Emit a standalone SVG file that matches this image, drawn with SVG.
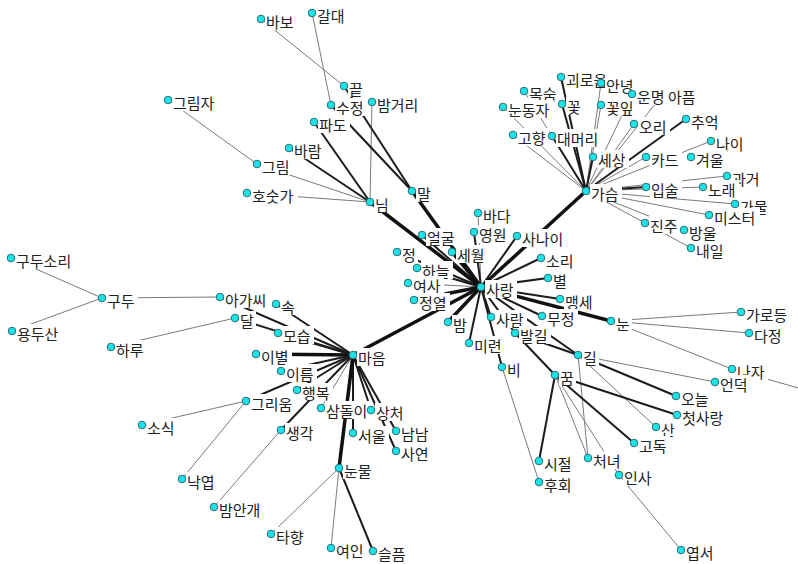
<svg xmlns="http://www.w3.org/2000/svg" width="798" height="564" viewBox="0 0 798 564">
<style>
.t{stroke:#7a7a7a;stroke-width:1}
.m{stroke:#1c1c1c;stroke-width:2}
.k{stroke:#111;stroke-width:3.5}
.bg{fill:#fff}
.dot{fill:#1de3e6;stroke:#2a6f78;stroke-width:1}
text{font-family:"Noto Sans CJK KR","Noto Sans KR",sans-serif;font-size:15px;fill:#222}
</style>
<rect width="798" height="564" fill="#fff"/>
<g id="edges" fill="none">
<line class="t" x1="261" y1="19" x2="344" y2="86"/>
<line class="t" x1="312" y1="13" x2="331" y2="105"/>
<line class="t" x1="168" y1="100" x2="257" y2="164"/>
<line class="t" x1="257" y1="164" x2="370" y2="202"/>
<line class="t" x1="247" y1="193" x2="370" y2="202"/>
<line class="t" x1="372" y1="102" x2="370" y2="202"/>
<line class="t" x1="503" y1="107" x2="586" y2="191"/>
<line class="t" x1="513" y1="135" x2="586" y2="191"/>
<line class="t" x1="524" y1="91" x2="586" y2="191"/>
<line class="t" x1="601" y1="83" x2="586" y2="191"/>
<line class="t" x1="601" y1="105" x2="586" y2="191"/>
<line class="t" x1="632" y1="94" x2="586" y2="191"/>
<line class="t" x1="663" y1="94" x2="586" y2="191"/>
<line class="t" x1="634" y1="124" x2="586" y2="191"/>
<line class="t" x1="646" y1="157" x2="586" y2="191"/>
<line class="t" x1="711" y1="141" x2="586" y2="191"/>
<line class="t" x1="727" y1="176" x2="586" y2="191"/>
<line class="t" x1="703" y1="187" x2="586" y2="191"/>
<line class="t" x1="735" y1="204" x2="586" y2="191"/>
<line class="t" x1="709" y1="215" x2="586" y2="191"/>
<line class="t" x1="645" y1="223" x2="586" y2="191"/>
<line class="t" x1="684" y1="230" x2="586" y2="191"/>
<line class="t" x1="691" y1="248" x2="645" y2="223"/>
<line class="t" x1="478" y1="213" x2="481" y2="287"/>
<line class="t" x1="408" y1="283" x2="481" y2="287"/>
<line class="t" x1="611" y1="321" x2="741" y2="312"/>
<line class="t" x1="611" y1="321" x2="749" y2="333"/>
<line class="t" x1="611" y1="321" x2="732" y2="369"/>
<line class="t" x1="732" y1="369" x2="812" y2="392"/>
<line class="t" x1="578" y1="355" x2="715" y2="382"/>
<line class="t" x1="578" y1="355" x2="656" y2="427"/>
<line class="t" x1="578" y1="355" x2="588" y2="458"/>
<line class="t" x1="555" y1="375" x2="619" y2="475"/>
<line class="t" x1="555" y1="375" x2="588" y2="458"/>
<line class="t" x1="619" y1="475" x2="681" y2="550"/>
<line class="t" x1="502" y1="367" x2="539" y2="482"/>
<line class="t" x1="11" y1="258" x2="102" y2="298"/>
<line class="t" x1="12" y1="331" x2="102" y2="298"/>
<line class="t" x1="102" y1="298" x2="220" y2="297"/>
<line class="t" x1="111" y1="347" x2="235" y2="318"/>
<line class="t" x1="246" y1="401" x2="142" y2="425"/>
<line class="t" x1="246" y1="401" x2="182" y2="479"/>
<line class="t" x1="281" y1="430" x2="214" y2="507"/>
<line class="t" x1="339" y1="468" x2="271" y2="534"/>
<line class="t" x1="339" y1="468" x2="331" y2="548"/>
<line class="t" x1="321" y1="408" x2="353" y2="355"/>
<line class="m" x1="289" y1="148" x2="370" y2="202"/>
<line class="m" x1="314" y1="122" x2="370" y2="202"/>
<line class="m" x1="331" y1="105" x2="412" y2="191"/>
<line class="m" x1="344" y1="86" x2="412" y2="191"/>
<line class="m" x1="561" y1="77" x2="586" y2="191"/>
<line class="m" x1="562" y1="104" x2="586" y2="191"/>
<line class="m" x1="552" y1="136" x2="586" y2="191"/>
<line class="m" x1="593" y1="157" x2="586" y2="191"/>
<line class="m" x1="686" y1="119" x2="586" y2="191"/>
<line class="m" x1="646" y1="187" x2="586" y2="191"/>
<line class="m" x1="474" y1="232" x2="481" y2="287"/>
<line class="m" x1="422" y1="235" x2="481" y2="287"/>
<line class="m" x1="397" y1="252" x2="481" y2="287"/>
<line class="m" x1="417" y1="268" x2="481" y2="287"/>
<line class="m" x1="517" y1="236" x2="481" y2="287"/>
<line class="m" x1="541" y1="258" x2="481" y2="287"/>
<line class="m" x1="548" y1="278" x2="481" y2="287"/>
<line class="m" x1="560" y1="299" x2="481" y2="287"/>
<line class="m" x1="542" y1="316" x2="481" y2="287"/>
<line class="m" x1="491" y1="317" x2="481" y2="287"/>
<line class="m" x1="515" y1="333" x2="481" y2="287"/>
<line class="m" x1="469" y1="343" x2="481" y2="287"/>
<line class="m" x1="481" y1="287" x2="502" y2="367"/>
<line class="m" x1="481" y1="287" x2="578" y2="355"/>
<line class="m" x1="515" y1="333" x2="578" y2="355"/>
<line class="m" x1="515" y1="333" x2="555" y2="375"/>
<line class="m" x1="578" y1="355" x2="676" y2="396"/>
<line class="m" x1="555" y1="375" x2="677" y2="415"/>
<line class="m" x1="555" y1="375" x2="634" y2="443"/>
<line class="m" x1="555" y1="375" x2="539" y2="461"/>
<line class="m" x1="339" y1="468" x2="373" y2="551"/>
<line class="m" x1="276" y1="304" x2="353" y2="355"/>
<line class="m" x1="220" y1="297" x2="353" y2="355"/>
<line class="m" x1="235" y1="318" x2="353" y2="355"/>
<line class="m" x1="278" y1="333" x2="353" y2="355"/>
<line class="m" x1="281" y1="371" x2="353" y2="355"/>
<line class="m" x1="246" y1="401" x2="353" y2="355"/>
<line class="m" x1="297" y1="390" x2="353" y2="355"/>
<line class="m" x1="281" y1="430" x2="353" y2="355"/>
<line class="m" x1="353" y1="433" x2="353" y2="355"/>
<line class="m" x1="371" y1="410" x2="353" y2="355"/>
<line class="m" x1="396" y1="431" x2="353" y2="355"/>
<line class="m" x1="396" y1="451" x2="353" y2="355"/>
<line class="k" x1="370" y1="202" x2="481" y2="287"/>
<line class="k" x1="412" y1="191" x2="481" y2="287"/>
<line class="k" x1="586" y1="191" x2="481" y2="287"/>
<line class="k" x1="452" y1="252" x2="481" y2="287"/>
<line class="k" x1="414" y1="300" x2="481" y2="287"/>
<line class="k" x1="448" y1="322" x2="481" y2="287"/>
<line class="k" x1="353" y1="355" x2="481" y2="287"/>
<line class="k" x1="611" y1="321" x2="481" y2="287"/>
<line class="k" x1="256" y1="354" x2="353" y2="355"/>
<line class="k" x1="339" y1="468" x2="353" y2="355"/>
</g>
<g id="n01"><rect class="bg" x="265" y="12" width="32" height="18"/><circle class="dot" cx="261" cy="19" r="3.8"/><text x="266" y="28">바보</text></g>
<g id="n02"><rect class="bg" x="316" y="6" width="32" height="18"/><circle class="dot" cx="312" cy="13" r="3.8"/><text x="317" y="22">갈대</text></g>
<g id="n03"><rect class="bg" x="348" y="79" width="17" height="18"/><circle class="dot" cx="344" cy="86" r="3.8"/><text x="349" y="95">끝</text></g>
<g id="n04"><rect class="bg" x="335" y="98" width="32" height="18"/><circle class="dot" cx="331" cy="105" r="3.8"/><text x="336" y="114">수정</text></g>
<g id="n05"><rect class="bg" x="376" y="95" width="47" height="18"/><circle class="dot" cx="372" cy="102" r="3.8"/><text x="377" y="111">밤거리</text></g>
<g id="n06"><rect class="bg" x="318" y="115" width="32" height="18"/><circle class="dot" cx="314" cy="122" r="3.8"/><text x="319" y="131">파도</text></g>
<g id="n07"><rect class="bg" x="172" y="93" width="47" height="18"/><circle class="dot" cx="168" cy="100" r="3.8"/><text x="173" y="109">그림자</text></g>
<g id="n08"><rect class="bg" x="293" y="141" width="32" height="18"/><circle class="dot" cx="289" cy="148" r="3.8"/><text x="294" y="157">바람</text></g>
<g id="n09"><rect class="bg" x="261" y="157" width="32" height="18"/><circle class="dot" cx="257" cy="164" r="3.8"/><text x="262" y="173">그림</text></g>
<g id="n10"><rect class="bg" x="251" y="186" width="47" height="18"/><circle class="dot" cx="247" cy="193" r="3.8"/><text x="252" y="202">호숫가</text></g>
<g id="n11"><rect class="bg" x="374" y="195" width="17" height="18"/><circle class="dot" cx="370" cy="202" r="3.8"/><text x="375" y="211">님</text></g>
<g id="n12"><rect class="bg" x="416" y="184" width="17" height="18"/><circle class="dot" cx="412" cy="191" r="3.8"/><text x="417" y="200">말</text></g>
<g id="n13"><rect class="bg" x="565" y="70" width="47" height="18"/><circle class="dot" cx="561" cy="77" r="3.8"/><text x="566" y="86">괴로움</text></g>
<g id="n14"><rect class="bg" x="605" y="76" width="32" height="18"/><circle class="dot" cx="601" cy="83" r="3.8"/><text x="606" y="92">안녕</text></g>
<g id="n15"><rect class="bg" x="528" y="84" width="32" height="18"/><circle class="dot" cx="524" cy="91" r="3.8"/><text x="529" y="100">목숨</text></g>
<g id="n16"><rect class="bg" x="667" y="87" width="32" height="18"/><circle class="dot" cx="663" cy="94" r="3.8"/><text x="668" y="103">아픔</text></g>
<g id="n17"><rect class="bg" x="636" y="87" width="32" height="18"/><circle class="dot" cx="632" cy="94" r="3.8"/><text x="637" y="103">운명</text></g>
<g id="n18"><rect class="bg" x="507" y="100" width="47" height="18"/><circle class="dot" cx="503" cy="107" r="3.8"/><text x="508" y="116">눈동자</text></g>
<g id="n19"><rect class="bg" x="566" y="97" width="17" height="18"/><circle class="dot" cx="562" cy="104" r="3.8"/><text x="567" y="113">꽃</text></g>
<g id="n20"><rect class="bg" x="605" y="98" width="32" height="18"/><circle class="dot" cx="601" cy="105" r="3.8"/><text x="606" y="114">꽃잎</text></g>
<g id="n21"><rect class="bg" x="638" y="117" width="32" height="18"/><circle class="dot" cx="634" cy="124" r="3.8"/><text x="639" y="133">오리</text></g>
<g id="n22"><rect class="bg" x="690" y="112" width="32" height="18"/><circle class="dot" cx="686" cy="119" r="3.8"/><text x="691" y="128">추억</text></g>
<g id="n23"><rect class="bg" x="517" y="128" width="32" height="18"/><circle class="dot" cx="513" cy="135" r="3.8"/><text x="518" y="144">고향</text></g>
<g id="n24"><rect class="bg" x="556" y="129" width="47" height="18"/><circle class="dot" cx="552" cy="136" r="3.8"/><text x="557" y="145">대머리</text></g>
<g id="n25"><rect class="bg" x="715" y="134" width="32" height="18"/><circle class="dot" cx="711" cy="141" r="3.8"/><text x="716" y="150">나이</text></g>
<g id="n26"><rect class="bg" x="597" y="150" width="32" height="18"/><circle class="dot" cx="593" cy="157" r="3.8"/><text x="598" y="166">세상</text></g>
<g id="n27"><rect class="bg" x="650" y="150" width="32" height="18"/><circle class="dot" cx="646" cy="157" r="3.8"/><text x="651" y="166">카드</text></g>
<g id="n28"><rect class="bg" x="695" y="150" width="32" height="18"/><circle class="dot" cx="691" cy="157" r="3.8"/><text x="696" y="166">겨울</text></g>
<g id="n29"><rect class="bg" x="731" y="169" width="32" height="18"/><circle class="dot" cx="727" cy="176" r="3.8"/><text x="732" y="185">과거</text></g>
<g id="n30"><rect class="bg" x="590" y="184" width="32" height="18"/><circle class="dot" cx="586" cy="191" r="3.8"/><text x="591" y="200">가슴</text></g>
<g id="n31"><rect class="bg" x="650" y="180" width="32" height="18"/><circle class="dot" cx="646" cy="187" r="3.8"/><text x="651" y="196">입술</text></g>
<g id="n32"><rect class="bg" x="707" y="180" width="32" height="18"/><circle class="dot" cx="703" cy="187" r="3.8"/><text x="708" y="196">노래</text></g>
<g id="n33"><rect class="bg" x="739" y="197" width="32" height="18"/><circle class="dot" cx="735" cy="204" r="3.8"/><text x="740" y="213">가물</text></g>
<g id="n34"><rect class="bg" x="713" y="208" width="47" height="18"/><circle class="dot" cx="709" cy="215" r="3.8"/><text x="714" y="224">미스터</text></g>
<g id="n35"><rect class="bg" x="649" y="216" width="32" height="18"/><circle class="dot" cx="645" cy="223" r="3.8"/><text x="650" y="232">진주</text></g>
<g id="n36"><rect class="bg" x="688" y="223" width="32" height="18"/><circle class="dot" cx="684" cy="230" r="3.8"/><text x="689" y="239">방울</text></g>
<g id="n37"><rect class="bg" x="695" y="241" width="32" height="18"/><circle class="dot" cx="691" cy="248" r="3.8"/><text x="696" y="257">내일</text></g>
<g id="n38"><rect class="bg" x="482" y="206" width="32" height="18"/><circle class="dot" cx="478" cy="213" r="3.8"/><text x="483" y="222">바다</text></g>
<g id="n39"><rect class="bg" x="478" y="225" width="32" height="18"/><circle class="dot" cx="474" cy="232" r="3.8"/><text x="479" y="241">영원</text></g>
<g id="n40"><rect class="bg" x="521" y="229" width="47" height="18"/><circle class="dot" cx="517" cy="236" r="3.8"/><text x="522" y="245">사나이</text></g>
<g id="n41"><rect class="bg" x="426" y="228" width="32" height="18"/><circle class="dot" cx="422" cy="235" r="3.8"/><text x="427" y="244">얼굴</text></g>
<g id="n42"><rect class="bg" x="456" y="245" width="32" height="18"/><circle class="dot" cx="452" cy="252" r="3.8"/><text x="457" y="261">세월</text></g>
<g id="n43"><rect class="bg" x="401" y="245" width="17" height="18"/><circle class="dot" cx="397" cy="252" r="3.8"/><text x="402" y="261">정</text></g>
<g id="n44"><rect class="bg" x="545" y="251" width="32" height="18"/><circle class="dot" cx="541" cy="258" r="3.8"/><text x="546" y="267">소리</text></g>
<g id="n45"><rect class="bg" x="421" y="261" width="32" height="18"/><circle class="dot" cx="417" cy="268" r="3.8"/><text x="422" y="277">하늘</text></g>
<g id="n46"><rect class="bg" x="552" y="271" width="17" height="18"/><circle class="dot" cx="548" cy="278" r="3.8"/><text x="553" y="287">별</text></g>
<g id="n47"><rect class="bg" x="412" y="276" width="32" height="18"/><circle class="dot" cx="408" cy="283" r="3.8"/><text x="413" y="292">여사</text></g>
<g id="n48"><rect class="bg" x="485" y="280" width="32" height="18"/><circle class="dot" cx="481" cy="287" r="3.8"/><text x="486" y="296">사랑</text></g>
<g id="n49"><rect class="bg" x="564" y="292" width="32" height="18"/><circle class="dot" cx="560" cy="299" r="3.8"/><text x="565" y="308">맹세</text></g>
<g id="n50"><rect class="bg" x="418" y="293" width="32" height="18"/><circle class="dot" cx="414" cy="300" r="3.8"/><text x="419" y="309">정열</text></g>
<g id="n51"><rect class="bg" x="546" y="309" width="32" height="18"/><circle class="dot" cx="542" cy="316" r="3.8"/><text x="547" y="325">무정</text></g>
<g id="n52"><rect class="bg" x="495" y="310" width="32" height="18"/><circle class="dot" cx="491" cy="317" r="3.8"/><text x="496" y="326">사람</text></g>
<g id="n53"><rect class="bg" x="452" y="315" width="17" height="18"/><circle class="dot" cx="448" cy="322" r="3.8"/><text x="453" y="331">밤</text></g>
<g id="n54"><rect class="bg" x="615" y="314" width="17" height="18"/><circle class="dot" cx="611" cy="321" r="3.8"/><text x="616" y="330">눈</text></g>
<g id="n55"><rect class="bg" x="745" y="305" width="47" height="18"/><circle class="dot" cx="741" cy="312" r="3.8"/><text x="746" y="321">가로등</text></g>
<g id="n56"><rect class="bg" x="753" y="326" width="32" height="18"/><circle class="dot" cx="749" cy="333" r="3.8"/><text x="754" y="342">다정</text></g>
<g id="n57"><rect class="bg" x="519" y="326" width="32" height="18"/><circle class="dot" cx="515" cy="333" r="3.8"/><text x="520" y="342">발길</text></g>
<g id="n58"><rect class="bg" x="473" y="336" width="32" height="18"/><circle class="dot" cx="469" cy="343" r="3.8"/><text x="474" y="352">미련</text></g>
<g id="n59"><rect class="bg" x="582" y="348" width="17" height="18"/><circle class="dot" cx="578" cy="355" r="3.8"/><text x="583" y="364">길</text></g>
<g id="n60"><rect class="bg" x="506" y="360" width="17" height="18"/><circle class="dot" cx="502" cy="367" r="3.8"/><text x="507" y="376">비</text></g>
<g id="n61"><rect class="bg" x="736" y="362" width="32" height="18"/><circle class="dot" cx="732" cy="369" r="3.8"/><text x="737" y="378">나자</text></g>
<g id="n62"><rect class="bg" x="559" y="368" width="17" height="18"/><circle class="dot" cx="555" cy="375" r="3.8"/><text x="560" y="384">꿈</text></g>
<g id="n63"><rect class="bg" x="719" y="375" width="32" height="18"/><circle class="dot" cx="715" cy="382" r="3.8"/><text x="720" y="391">언덕</text></g>
<g id="n64"><rect class="bg" x="680" y="389" width="32" height="18"/><circle class="dot" cx="676" cy="396" r="3.8"/><text x="681" y="405">오늘</text></g>
<g id="n65"><rect class="bg" x="681" y="408" width="47" height="18"/><circle class="dot" cx="677" cy="415" r="3.8"/><text x="682" y="424">첫사랑</text></g>
<g id="n66"><rect class="bg" x="660" y="420" width="17" height="18"/><circle class="dot" cx="656" cy="427" r="3.8"/><text x="661" y="436">산</text></g>
<g id="n67"><rect class="bg" x="638" y="436" width="32" height="18"/><circle class="dot" cx="634" cy="443" r="3.8"/><text x="639" y="452">고독</text></g>
<g id="n68"><rect class="bg" x="592" y="451" width="32" height="18"/><circle class="dot" cx="588" cy="458" r="3.8"/><text x="593" y="467">처녀</text></g>
<g id="n69"><rect class="bg" x="543" y="454" width="32" height="18"/><circle class="dot" cx="539" cy="461" r="3.8"/><text x="544" y="470">시절</text></g>
<g id="n70"><rect class="bg" x="623" y="468" width="32" height="18"/><circle class="dot" cx="619" cy="475" r="3.8"/><text x="624" y="484">인사</text></g>
<g id="n71"><rect class="bg" x="543" y="475" width="32" height="18"/><circle class="dot" cx="539" cy="482" r="3.8"/><text x="544" y="491">후회</text></g>
<g id="n72"><rect class="bg" x="685" y="543" width="32" height="18"/><circle class="dot" cx="681" cy="550" r="3.8"/><text x="686" y="559">엽서</text></g>
<g id="n73"><rect class="bg" x="15" y="251" width="62" height="18"/><circle class="dot" cx="11" cy="258" r="3.8"/><text x="16" y="267">구두소리</text></g>
<g id="n74"><rect class="bg" x="106" y="291" width="32" height="18"/><circle class="dot" cx="102" cy="298" r="3.8"/><text x="107" y="307">구두</text></g>
<g id="n75"><rect class="bg" x="16" y="324" width="47" height="18"/><circle class="dot" cx="12" cy="331" r="3.8"/><text x="17" y="340">용두산</text></g>
<g id="n76"><rect class="bg" x="224" y="290" width="47" height="18"/><circle class="dot" cx="220" cy="297" r="3.8"/><text x="225" y="306">아가씨</text></g>
<g id="n77"><rect class="bg" x="280" y="297" width="17" height="18"/><circle class="dot" cx="276" cy="304" r="3.8"/><text x="281" y="313">속</text></g>
<g id="n78"><rect class="bg" x="239" y="311" width="17" height="18"/><circle class="dot" cx="235" cy="318" r="3.8"/><text x="240" y="327">달</text></g>
<g id="n79"><rect class="bg" x="282" y="326" width="32" height="18"/><circle class="dot" cx="278" cy="333" r="3.8"/><text x="283" y="342">모습</text></g>
<g id="n80"><rect class="bg" x="115" y="340" width="32" height="18"/><circle class="dot" cx="111" cy="347" r="3.8"/><text x="116" y="356">하루</text></g>
<g id="n81"><rect class="bg" x="260" y="347" width="32" height="18"/><circle class="dot" cx="256" cy="354" r="3.8"/><text x="261" y="363">이별</text></g>
<g id="n82"><rect class="bg" x="357" y="348" width="32" height="18"/><circle class="dot" cx="353" cy="355" r="3.8"/><text x="358" y="364">마음</text></g>
<g id="n83"><rect class="bg" x="285" y="364" width="32" height="18"/><circle class="dot" cx="281" cy="371" r="3.8"/><text x="286" y="380">이름</text></g>
<g id="n84"><rect class="bg" x="301" y="383" width="32" height="18"/><circle class="dot" cx="297" cy="390" r="3.8"/><text x="302" y="399">행복</text></g>
<g id="n85"><rect class="bg" x="250" y="394" width="47" height="18"/><circle class="dot" cx="246" cy="401" r="3.8"/><text x="251" y="410">그리움</text></g>
<g id="n86"><rect class="bg" x="325" y="401" width="47" height="18"/><circle class="dot" cx="321" cy="408" r="3.8"/><text x="326" y="417">삼돌이</text></g>
<g id="n87"><rect class="bg" x="375" y="403" width="32" height="18"/><circle class="dot" cx="371" cy="410" r="3.8"/><text x="376" y="419">상처</text></g>
<g id="n88"><rect class="bg" x="146" y="418" width="32" height="18"/><circle class="dot" cx="142" cy="425" r="3.8"/><text x="147" y="434">소식</text></g>
<g id="n89"><rect class="bg" x="285" y="423" width="32" height="18"/><circle class="dot" cx="281" cy="430" r="3.8"/><text x="286" y="439">생각</text></g>
<g id="n90"><rect class="bg" x="357" y="426" width="32" height="18"/><circle class="dot" cx="353" cy="433" r="3.8"/><text x="358" y="442">서울</text></g>
<g id="n91"><rect class="bg" x="400" y="424" width="32" height="18"/><circle class="dot" cx="396" cy="431" r="3.8"/><text x="401" y="440">남남</text></g>
<g id="n92"><rect class="bg" x="400" y="444" width="32" height="18"/><circle class="dot" cx="396" cy="451" r="3.8"/><text x="401" y="460">사연</text></g>
<g id="n93"><rect class="bg" x="343" y="461" width="32" height="18"/><circle class="dot" cx="339" cy="468" r="3.8"/><text x="344" y="477">눈물</text></g>
<g id="n94"><rect class="bg" x="186" y="472" width="32" height="18"/><circle class="dot" cx="182" cy="479" r="3.8"/><text x="187" y="488">낙엽</text></g>
<g id="n95"><rect class="bg" x="218" y="500" width="47" height="18"/><circle class="dot" cx="214" cy="507" r="3.8"/><text x="219" y="516">밤안개</text></g>
<g id="n96"><rect class="bg" x="275" y="527" width="32" height="18"/><circle class="dot" cx="271" cy="534" r="3.8"/><text x="276" y="543">타향</text></g>
<g id="n97"><rect class="bg" x="335" y="541" width="32" height="18"/><circle class="dot" cx="331" cy="548" r="3.8"/><text x="336" y="557">여인</text></g>
<g id="n98"><rect class="bg" x="377" y="544" width="32" height="18"/><circle class="dot" cx="373" cy="551" r="3.8"/><text x="378" y="560">슬픔</text></g>
</svg>
